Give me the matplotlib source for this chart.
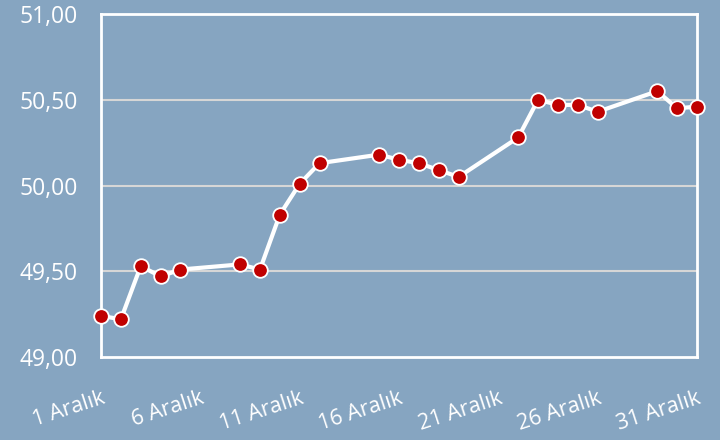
import matplotlib
matplotlib.use("Agg")
import matplotlib.pyplot as plt
from matplotlib.ticker import FuncFormatter

# Aralık ayı işlem günleri ve değerler
gunler = [1, 2, 3, 4, 5, 8, 9, 10, 11, 12, 15, 16, 17, 18, 19,
          22, 23, 24, 25, 26, 29, 30, 31]
degerler = [49.24, 49.22, 49.53, 49.47, 49.51, 49.54, 49.51, 49.83, 50.01, 50.13,
            50.18, 50.15, 50.13, 50.09, 50.05, 50.28, 50.50, 50.47, 50.47, 50.43,
            50.55, 50.45, 50.46]

etiket_gunleri = [1, 6, 11, 16, 21, 26, 31]
etiketler = [f"{g} Aralık" for g in etiket_gunleri]
y_ticks = [49.0, 49.5, 50.0, 50.5, 51.0]

bg = "#86a5c1"
plt.rcParams['font.family'] = ['Open Sans', 'DejaVu Sans']

fig = plt.figure(figsize=(7.2, 4.4), dpi=100, facecolor=bg)
ax = fig.add_axes([0.1403, 0.1886, 0.8278, 0.7796], facecolor=bg)

# Yatay ızgara
for yv in y_ticks[1:-1]:
    ax.axhline(yv, color="#d6d6d6", linewidth=1.5, zorder=1)

ax.plot(gunler, degerler, color="white", linewidth=3,
        marker="o", markersize=10.5, markerfacecolor="#c00000",
        markeredgecolor="white", markeredgewidth=1.3, clip_on=False, zorder=3)

ax.set_xlim(1, 31)
ax.set_ylim(49, 51)
ax.set_yticks(y_ticks)
ax.yaxis.set_major_formatter(FuncFormatter(lambda v, p: f"{v:.2f}".replace(".", ",")))
ax.set_xticks(etiket_gunleri)
ax.set_xticklabels(etiketler, rotation=18, ha="right", rotation_mode="anchor")

for s in ax.spines.values():
    s.set_color("white")
    s.set_linewidth(2)

ax.tick_params(axis="y", length=0, pad=17, labelsize=16.5, labelcolor="white")
ax.tick_params(axis="x", length=0, pad=22, labelsize=15.5, labelcolor="white")

fig.savefig("out.png", dpi=100, facecolor=bg)
